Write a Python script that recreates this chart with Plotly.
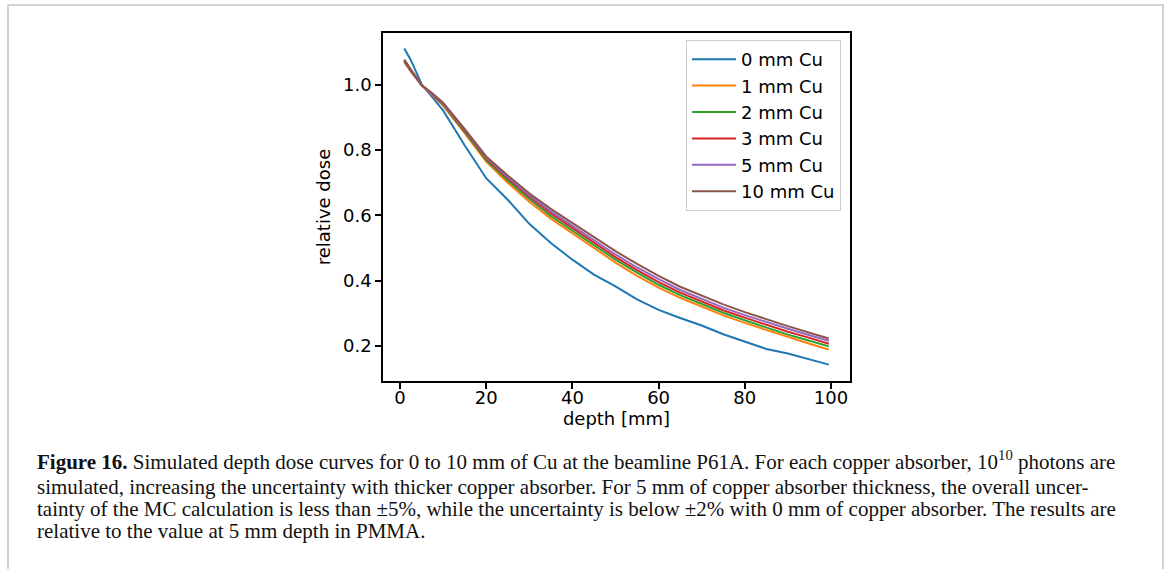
import plotly.graph_objects as go

depth_mm = [1, 2.5, 5, 7.5, 10, 15, 20, 25, 30, 35, 40, 45, 50, 55, 60, 65, 70, 75, 80, 85, 90, 95, 99.5]

dose_0mm = [1.112, 1.077, 1.003, 0.962, 0.922, 0.815, 0.714, 0.648, 0.574, 0.515, 0.464, 0.418, 0.382,
            0.342, 0.310, 0.285, 0.262, 0.235, 0.213, 0.190, 0.176, 0.157, 0.142]
dose_1mm = [1.070, 1.042, 1.000, 0.968, 0.937, 0.852, 0.765, 0.700, 0.642, 0.590, 0.545, 0.498, 0.455,
            0.414, 0.378, 0.347, 0.320, 0.293, 0.270, 0.248, 0.226, 0.206, 0.188]
dose_2mm = [1.072, 1.043, 1.000, 0.970, 0.940, 0.856, 0.770, 0.707, 0.650, 0.598, 0.553, 0.507, 0.464,
            0.424, 0.387, 0.355, 0.328, 0.301, 0.278, 0.256, 0.234, 0.215, 0.198]
dose_3mm = [1.075, 1.045, 1.000, 0.972, 0.942, 0.860, 0.775, 0.713, 0.657, 0.606, 0.561, 0.515, 0.472,
            0.432, 0.395, 0.363, 0.335, 0.309, 0.286, 0.264, 0.243, 0.224, 0.206]
dose_5mm = [1.078, 1.047, 1.000, 0.973, 0.944, 0.862, 0.778, 0.717, 0.662, 0.612, 0.568, 0.522, 0.480,
            0.440, 0.404, 0.371, 0.343, 0.317, 0.294, 0.272, 0.252, 0.232, 0.215]
dose_10mm = [1.077, 1.048, 1.000, 0.975, 0.946, 0.865, 0.781, 0.722, 0.668, 0.620, 0.577, 0.532, 0.490,
             0.451, 0.414, 0.381, 0.353, 0.327, 0.303, 0.281, 0.260, 0.240, 0.222]

series_names = ["0 mm Cu", "1 mm Cu", "2 mm Cu", "3 mm Cu", "5 mm Cu", "10 mm Cu"]
series_values = [dose_0mm, dose_1mm, dose_2mm, dose_3mm, dose_5mm, dose_10mm]
series_colors = ["#1f77b4", "#ff7f0e", "#2ca02c", "#d62728", "#9467bd", "#8c564b"]

x_ticks = [0, 20, 40, 60, 80, 100]
y_ticks = [0.2, 0.4, 0.6, 0.8, 1.0]

caption_lines = [
    "<b>Figure 16.</b> Simulated depth dose curves for 0 to 10 mm of Cu at the beamline P61A. For each copper absorber, 10<sup>10</sup> photons are",
    "simulated, increasing the uncertainty with thicker copper absorber. For 5 mm of copper absorber thickness, the overall uncer-",
    "tainty of the MC calculation is less than ±5%, while the uncertainty is below ±2% with 0 mm of copper absorber. The results are",
    "relative to the value at 5 mm depth in PMMA.",
]

W, H = 1167, 569
L, R, T, B = 383, 850, 33, 381
pw, ph = R - L, B - T

def px_x(px):
    return (px - L) / pw

def px_y(py):
    return (B - py) / ph

fig = go.Figure()
for name, vals, col in zip(series_names, series_values, series_colors):
    fig.add_trace(go.Scatter(x=depth_mm, y=vals, mode="lines", name=name,
                             line=dict(color=col, width=2)))

axis_common = dict(showline=True, mirror=True, linecolor="black", linewidth=1.5,
                   ticks="outside", ticklen=6, tickwidth=1.5, tickcolor="black",
                   showgrid=False, zeroline=False,
                   tickfont=dict(family="DejaVu Sans", size=18, color="black"))

fig.update_layout(
    width=W, height=H,
    margin=dict(l=L, r=W - R, t=T, b=H - B),
    paper_bgcolor="white", plot_bgcolor="white",
    font=dict(family="DejaVu Sans", size=18, color="black"),
    xaxis=dict(range=[-3.94, 104.41], tickvals=x_ticks, ticktext=[str(v) for v in x_ticks],
               ticklabelstandoff=-6,
               title=dict(text="depth [mm]", standoff=2, font=dict(size=18)), **axis_common),
    yaxis=dict(range=[0.0917, 1.1596], tickvals=y_ticks, ticktext=[f"{v:.1f}" for v in y_ticks],
               title=dict(text="relative dose", standoff=8, font=dict(size=18)), **axis_common),
    legend=dict(x=px_x(841), y=px_y(40), xanchor="right", yanchor="top",
                bgcolor="white", bordercolor="#cccccc", borderwidth=1,
                font=dict(family="DejaVu Sans", size=18, color="black"),
                itemwidth=44, tracegroupgap=0),
    showlegend=True,
)

# outer light-grey frame of the figure box
fig.add_shape(type="rect", xref="paper", yref="paper",
              x0=px_x(8), x1=px_x(1163), y0=px_y(575), y1=px_y(5),
              line=dict(color="#c6c6c6", width=1.5), fillcolor="rgba(0,0,0,0)", layer="below")

caption_y = [460, 487, 509, 531]
for txt, cy in zip(caption_lines, caption_y):
    fig.add_annotation(text=txt, xref="paper", yref="paper", x=px_x(35), y=px_y(cy),
                       xanchor="left", yanchor="middle", showarrow=False,
                       font=dict(family="Liberation Serif", size=21, color="#111111"))

fig.write_html("out.html")
